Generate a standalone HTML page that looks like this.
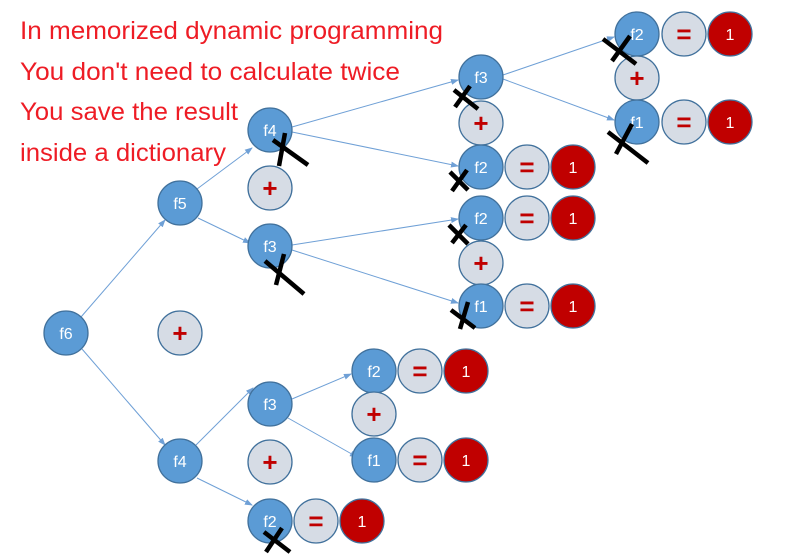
<!DOCTYPE html>
<html><head><meta charset="utf-8"><style>
html,body{margin:0;padding:0;background:#fff;width:792px;height:554px;overflow:hidden}
svg{display:block}
.b{fill:#5b9bd5;stroke:#41719c;stroke-width:1.3}
.g{fill:#d6dce5;stroke:#41719c;stroke-width:1.3}
.r{fill:#c00000;stroke:#41719c;stroke-width:1.3}
.t{font-family:"Liberation Sans",sans-serif;font-size:16px;fill:#fff;text-anchor:middle}
.o{font-family:"Liberation Sans",sans-serif;font-size:26px;fill:#c00000;text-anchor:middle;font-weight:bold}
.l{stroke:#6fa0d6;stroke-width:1;fill:none}
.x{stroke:#000;stroke-width:4.5;stroke-linecap:butt}
.h{font-family:"Liberation Sans",sans-serif;font-size:25px;fill:#ee1c25}
</style></head><body>
<svg width="792" height="554" viewBox="0 0 792 554" xmlns="http://www.w3.org/2000/svg">
<defs><marker id="a" markerWidth="8" markerHeight="6" refX="7" refY="3" orient="auto" markerUnits="userSpaceOnUse"><path d="M0,0 L8,3 L0,6 z" fill="#6fa0d6"/></marker></defs>
<text class="h" x="20" y="39" textLength="423" lengthAdjust="spacingAndGlyphs">In memorized dynamic programming</text>
<text class="h" x="20" y="80" textLength="380" lengthAdjust="spacingAndGlyphs">You don't need to calculate twice</text>
<text class="h" x="20" y="120" textLength="218" lengthAdjust="spacingAndGlyphs">You save the result</text>
<text class="h" x="20" y="161" textLength="206" lengthAdjust="spacingAndGlyphs">inside a dictionary</text>
<g class="l" marker-end="url(#a)">
<line x1="81" y1="317" x2="165" y2="220"/>
<line x1="82" y1="349" x2="165" y2="445"/>
<line x1="197" y1="189" x2="252" y2="148"/>
<line x1="198" y1="218" x2="250" y2="243"/>
<line x1="292" y1="127" x2="458" y2="80"/>
<line x1="292" y1="132" x2="458" y2="166"/>
<line x1="292" y1="245" x2="458" y2="219"/>
<line x1="292" y1="250" x2="458" y2="303"/>
<line x1="503" y1="75" x2="614" y2="37"/>
<line x1="503" y1="79" x2="614" y2="120"/>
<line x1="196" y1="445" x2="253" y2="388"/>
<line x1="197" y1="478" x2="252" y2="505"/>
<line x1="292" y1="399" x2="351" y2="374"/>
<line x1="288" y1="418" x2="357" y2="457"/>
</g>
<g>
<circle class="b" cx="66" cy="333" r="22"/><text class="t" x="66" y="339">f6</text>
<circle class="g" cx="180" cy="333" r="22"/><text class="o" x="180" y="342">+</text>
<circle class="b" cx="180" cy="203" r="22"/><text class="t" x="180" y="209">f5</text>
<circle class="b" cx="180" cy="461" r="22"/><text class="t" x="180" y="467">f4</text>
<circle class="b" cx="270" cy="130" r="22"/><text class="t" x="270" y="136">f4</text>
<circle class="g" cx="270" cy="188" r="22"/><text class="o" x="270" y="197">+</text>
<circle class="b" cx="270" cy="246" r="22"/><text class="t" x="270" y="252">f3</text>
<circle class="b" cx="481" cy="77" r="22"/><text class="t" x="481" y="83">f3</text>
<circle class="g" cx="481" cy="123" r="22"/><text class="o" x="481" y="132">+</text>
<circle class="b" cx="481" cy="167" r="22"/><text class="t" x="481" y="173">f2</text>
<circle class="g" cx="527" cy="167" r="22"/><text class="o" x="527" y="176">=</text>
<circle class="r" cx="573" cy="167" r="22"/><text class="t" x="573" y="173">1</text>
<circle class="b" cx="481" cy="218" r="22"/><text class="t" x="481" y="224">f2</text>
<circle class="g" cx="527" cy="218" r="22"/><text class="o" x="527" y="227">=</text>
<circle class="r" cx="573" cy="218" r="22"/><text class="t" x="573" y="224">1</text>
<circle class="g" cx="481" cy="263" r="22"/><text class="o" x="481" y="272">+</text>
<circle class="b" cx="481" cy="306" r="22"/><text class="t" x="481" y="312">f1</text>
<circle class="g" cx="527" cy="306" r="22"/><text class="o" x="527" y="315">=</text>
<circle class="r" cx="573" cy="306" r="22"/><text class="t" x="573" y="312">1</text>
<circle class="b" cx="637" cy="34" r="22"/><text class="t" x="637" y="40">f2</text>
<circle class="g" cx="684" cy="34" r="22"/><text class="o" x="684" y="43">=</text>
<circle class="r" cx="730" cy="34" r="22"/><text class="t" x="730" y="40">1</text>
<circle class="g" cx="637" cy="78" r="22"/><text class="o" x="637" y="87">+</text>
<circle class="b" cx="637" cy="122" r="22"/><text class="t" x="637" y="128">f1</text>
<circle class="g" cx="684" cy="122" r="22"/><text class="o" x="684" y="131">=</text>
<circle class="r" cx="730" cy="122" r="22"/><text class="t" x="730" y="128">1</text>
<circle class="b" cx="270" cy="404" r="22"/><text class="t" x="270" y="410">f3</text>
<circle class="g" cx="270" cy="462" r="22"/><text class="o" x="270" y="471">+</text>
<circle class="b" cx="270" cy="521" r="22"/><text class="t" x="270" y="527">f2</text>
<circle class="g" cx="316" cy="521" r="22"/><text class="o" x="316" y="530">=</text>
<circle class="r" cx="362" cy="521" r="22"/><text class="t" x="362" y="527">1</text>
<circle class="b" cx="374" cy="371" r="22"/><text class="t" x="374" y="377">f2</text>
<circle class="g" cx="420" cy="371" r="22"/><text class="o" x="420" y="380">=</text>
<circle class="r" cx="466" cy="371" r="22"/><text class="t" x="466" y="377">1</text>
<circle class="g" cx="374" cy="414" r="22"/><text class="o" x="374" y="423">+</text>
<circle class="b" cx="374" cy="460" r="22"/><text class="t" x="374" y="466">f1</text>
<circle class="g" cx="420" cy="460" r="22"/><text class="o" x="420" y="469">=</text>
<circle class="r" cx="466" cy="460" r="22"/><text class="t" x="466" y="466">1</text>
</g>
<g class="x">
<line x1="273" y1="140" x2="308" y2="165"/><line x1="285" y1="133" x2="279" y2="166"/>
<line x1="265" y1="261" x2="304" y2="294"/><line x1="284" y1="254" x2="276" y2="285"/>
<line x1="603" y1="39" x2="636" y2="64"/><line x1="630" y1="36" x2="612" y2="61"/>
<line x1="608" y1="132" x2="648" y2="163"/><line x1="632" y1="124" x2="616" y2="154"/>
<line x1="454" y1="90" x2="478" y2="109"/><line x1="470" y1="86" x2="455" y2="107"/>
<line x1="450" y1="172" x2="468" y2="190"/><line x1="467" y1="170" x2="452" y2="191"/>
<line x1="449" y1="225" x2="468" y2="244"/><line x1="466" y1="225" x2="452" y2="243"/>
<line x1="451" y1="310" x2="475" y2="328"/><line x1="468" y1="302" x2="460" y2="329"/>
<line x1="264" y1="532" x2="290" y2="552"/><line x1="282" y1="528" x2="266" y2="552"/>
</g>
</svg>
</body></html>
